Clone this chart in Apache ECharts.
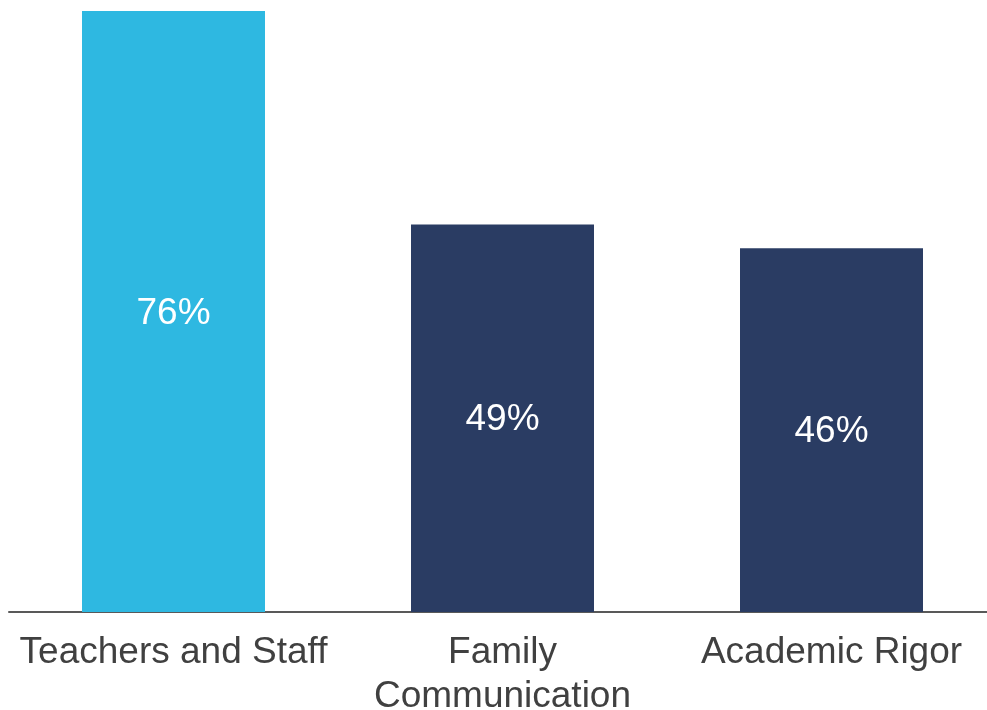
<!DOCTYPE html>
<html>
<head>
<meta charset="utf-8">
<style>
  html, body { margin: 0; padding: 0; background: #ffffff; }
  #chart { width: 987px; height: 710px; }
</style>
<script src="https://cdn.jsdelivr.net/npm/echarts@6/dist/echarts.min.js"></script>
</head>
<body>
<div id="chart"></div>
<script>
// Share of responses by area
const categories = ['Teachers and Staff', 'Family\nCommunication', 'Academic Rigor'];
const values = [76, 49, 46];
const barColors = ['#2EB8E1', '#2A3C63', '#2A3C63'];

const chart = echarts.init(document.getElementById('chart'), null, { renderer: 'canvas' });

chart.setOption({
  animation: false,
  backgroundColor: '#ffffff',
  grid: {
    left: 9, width: 987, top: 11, height: 601,
    containLabel: false,
    outerBoundsMode: 'none'
  },
  xAxis: {
    type: 'category',
    data: categories,
    axisLine: { show: true, lineStyle: { color: '#595959', width: 2 } },
    axisTick: { show: false },
    axisLabel: {
      color: '#404040',
      fontFamily: 'Liberation Sans, Arial, sans-serif',
      fontSize: 37,
      lineHeight: 44,
      margin: 19,
      interval: 0
    }
  },
  yAxis: {
    type: 'value',
    min: 0,
    max: 76,
    show: false,
    splitLine: { show: false }
  },
  series: [{
    type: 'bar',
    barWidth: 183,
    data: values.map((v, i) => ({ value: v, itemStyle: { color: barColors[i] } })),
    label: {
      show: true,
      position: 'inside',
      offset: [0, 2],
      color: '#ffffff',
      fontFamily: 'Liberation Sans, Arial, sans-serif',
      fontSize: 37,
      formatter: p => p.value + '%'
    }
  }]
});
</script>
</body>
</html>
